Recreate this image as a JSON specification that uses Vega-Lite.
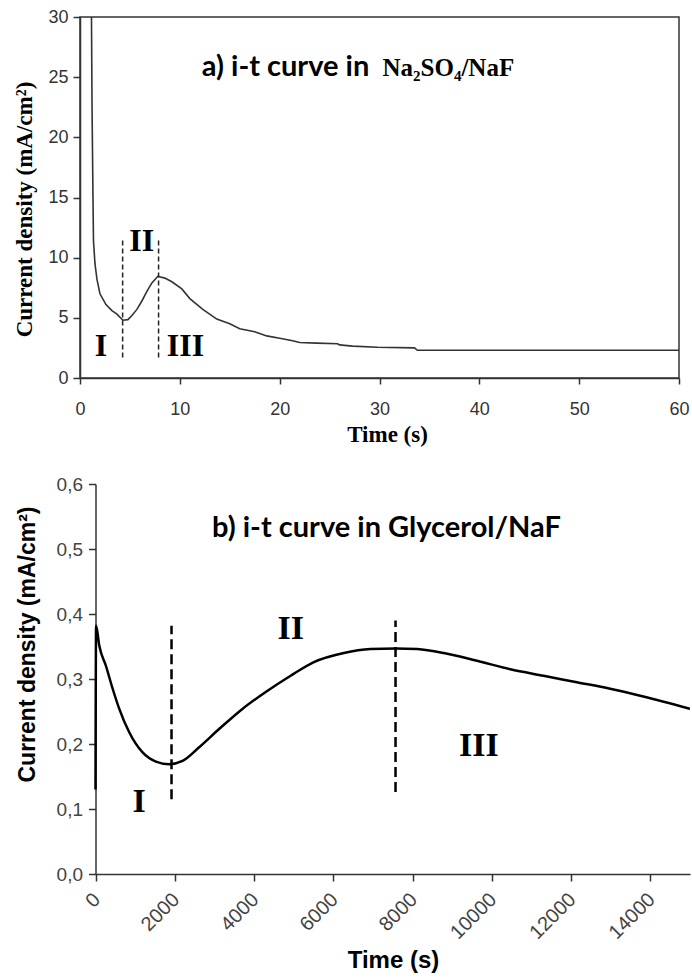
{
  "$schema": "https://vega.github.io/schema/vega-lite/v6.json",
  "background": "white",
  "padding": {"left": 13, "top": 7, "right": 2, "bottom": 3},
  "spacing": 28,
  "config": {
    "view": {"stroke": "#333", "strokeWidth": 1.5},
    "axis": {"grid": false, "domainColor": "#333", "tickColor": "#333", "domainWidth": 1.5, "tickWidth": 1.5, "labelFlush": false, "labelOverlap": false}
  },
  "datasets": {
    "curveA": [
      {"t": 1.15, "j": 30}, {"t": 1.2, "j": 23.1}, {"t": 1.3, "j": 15}, {"t": 1.35, "j": 11.4},
      {"t": 1.5, "j": 9.5}, {"t": 1.7, "j": 8.2}, {"t": 2.0, "j": 7.0}, {"t": 2.6, "j": 6.1},
      {"t": 3.2, "j": 5.6}, {"t": 3.7, "j": 5.3}, {"t": 4.3, "j": 4.8}, {"t": 4.8, "j": 4.85},
      {"t": 5.2, "j": 5.2}, {"t": 5.7, "j": 5.7}, {"t": 6.2, "j": 6.4}, {"t": 6.7, "j": 7.2},
      {"t": 7.2, "j": 7.9}, {"t": 7.8, "j": 8.45}, {"t": 8.5, "j": 8.3}, {"t": 9.2, "j": 8.0},
      {"t": 10.2, "j": 7.4}, {"t": 11.0, "j": 6.6}, {"t": 12.3, "j": 5.7}, {"t": 13.7, "j": 4.9},
      {"t": 15.0, "j": 4.5}, {"t": 16.0, "j": 4.1}, {"t": 17.5, "j": 3.85}, {"t": 18.7, "j": 3.5},
      {"t": 20.0, "j": 3.3}, {"t": 21.3, "j": 3.1}, {"t": 22.0, "j": 2.95}, {"t": 23.7, "j": 2.9},
      {"t": 25.8, "j": 2.85}, {"t": 26.0, "j": 2.75}, {"t": 27.3, "j": 2.65}, {"t": 29.8, "j": 2.55},
      {"t": 33.5, "j": 2.5}, {"t": 33.8, "j": 2.3}, {"t": 60, "j": 2.3}
    ],
    "dashA": [
      {"t": 4.27, "y1": 1.7, "y2": 11.5},
      {"t": 7.87, "y1": 1.7, "y2": 11.5}
    ],
    "labelsA": [
      {"label": "I", "t": 2.1, "j": 1.83},
      {"label": "II", "t": 6.18, "j": 10.56},
      {"label": "III", "t": 10.57, "j": 1.83}
    ],
    "titleA1": [{"text": "a) i-t curve in", "t": 12.2, "j": 25.06}],
    "titleA2": [{"text": "Na₂SO₄/NaF", "t": 30.3, "j": 25.06}],
    "curveB": [
      {"t": 0, "j": 0.13}, {"t": 15, "j": 0.382}, {"t": 96, "j": 0.351}, {"t": 264, "j": 0.32},
      {"t": 433, "j": 0.285}, {"t": 600, "j": 0.254}, {"t": 851, "j": 0.218}, {"t": 1188, "j": 0.187},
      {"t": 1524, "j": 0.173}, {"t": 1860, "j": 0.169}, {"t": 2196, "j": 0.174}, {"t": 2615, "j": 0.195},
      {"t": 3118, "j": 0.223}, {"t": 3707, "j": 0.254}, {"t": 4295, "j": 0.28}, {"t": 4924, "j": 0.305},
      {"t": 5511, "j": 0.326}, {"t": 6267, "j": 0.34}, {"t": 6940, "j": 0.346}, {"t": 7570, "j": 0.347},
      {"t": 8116, "j": 0.346}, {"t": 8786, "j": 0.34}, {"t": 9627, "j": 0.328}, {"t": 10466, "j": 0.315},
      {"t": 11305, "j": 0.305}, {"t": 12146, "j": 0.295}, {"t": 12985, "j": 0.285}, {"t": 13824, "j": 0.273},
      {"t": 15000, "j": 0.254}
    ],
    "dashB": [
      {"t": 1918, "y1": 0.115, "y2": 0.382},
      {"t": 7570, "y1": 0.126, "y2": 0.39}
    ],
    "labelsB": [
      {"label": "I", "t": 1103, "j": 0.095},
      {"label": "II", "t": 4924, "j": 0.3615},
      {"label": "III", "t": 9673, "j": 0.1815}
    ],
    "titleB": [{"text": "b) i-t curve in Glycerol/NaF", "t": 2942, "j": 0.518}]
  },
  "vconcat": [
    {
      "width": 599,
      "height": 361,
      "layer": [
        {
          "data": {"name": "curveA"},
          "mark": {"type": "line", "color": "#333", "strokeWidth": 1.6, "clip": true},
          "encoding": {
            "x": {"field": "t", "type": "quantitative", "scale": {"domain": [0, 60], "nice": false},
              "axis": {"title": "Time (s)", "values": [0, 10, 20, 30, 40, 50, 60],
                "titleFont": "Liberation Serif", "titleFontSize": 23, "titleFontWeight": "bold", "titleColor": "black", "titlePadding": 5, "titleX": 307,
                "labelFont": "Liberation Sans", "labelFontSize": 18, "labelColor": "#333", "tickSize": 6, "labelPadding": 16}},
            "y": {"field": "j", "type": "quantitative", "scale": {"domain": [0, 30], "nice": false},
              "axis": {"title": "Current density (mA/cm²)", "values": [0, 5, 10, 15, 20, 25, 30],
                "titleFont": "Liberation Serif", "titleFontSize": 23, "titleFontWeight": "bold", "titleColor": "black", "titlePadding": 11, "titleY": 192,
                "labelFont": "Liberation Sans", "labelFontSize": 18, "labelColor": "#333", "tickSize": 7, "labelPadding": 5}},
            "order": {"field": "t", "type": "quantitative"}
          }
        },
        {
          "data": {"name": "dashA"},
          "mark": {"type": "rule", "strokeDash": [5, 3], "strokeWidth": 1.5, "color": "#222"},
          "encoding": {
            "x": {"field": "t", "type": "quantitative"},
            "y": {"field": "y1", "type": "quantitative"},
            "y2": {"field": "y2"}
          }
        },
        {
          "data": {"name": "labelsA"},
          "mark": {"type": "text", "font": "Liberation Serif", "fontWeight": "bold", "fontSize": 32, "baseline": "alphabetic", "align": "center", "color": "black"},
          "encoding": {
            "x": {"field": "t", "type": "quantitative"},
            "y": {"field": "j", "type": "quantitative"},
            "text": {"field": "label"}
          }
        },
        {
          "data": {"name": "titleA1"},
          "mark": {"type": "text", "font": "Lato", "fontWeight": "bold", "fontSize": 29, "baseline": "alphabetic", "align": "left", "color": "black"},
          "encoding": {
            "x": {"field": "t", "type": "quantitative"},
            "y": {"field": "j", "type": "quantitative"},
            "text": {"field": "text"}
          }
        },
        {
          "data": {"name": "titleA2"},
          "mark": {"type": "text", "font": "Liberation Serif", "fontWeight": "bold", "fontSize": 25, "baseline": "alphabetic", "align": "left", "color": "black"},
          "encoding": {
            "x": {"field": "t", "type": "quantitative"},
            "y": {"field": "j", "type": "quantitative"},
            "text": {"field": "text"}
          }
        }
      ]
    },
    {
      "width": 610,
      "height": 390,
      "view": {"stroke": null},
      "layer": [
        {
          "data": {"name": "curveB"},
          "mark": {"type": "line", "color": "black", "strokeWidth": 2.5, "clip": true, "interpolate": "monotone"},
          "encoding": {
            "x": {"field": "t", "type": "quantitative", "scale": {"domain": [0, 15000], "nice": false, "range": [15.5, 610]},
              "axis": {"title": "Time (s)", "values": [0, 2000, 4000, 6000, 8000, 10000, 12000, 14000], "format": "d",
                "labelAngle": -45, "titleFont": "Liberation Sans", "titleFontSize": 24, "titleFontWeight": "bold", "titleColor": "black", "titlePadding": 6, "titleX": 313,
                "labelFont": "Liberation Sans", "labelFontSize": 20, "labelColor": "#444", "tickSize": 7, "labelPadding": 8, "labelOffset": -6}},
            "y": {"field": "j", "type": "quantitative", "scale": {"domain": [0, 0.6], "nice": false},
              "axis": {"title": "Current density (mA/cm²)", "values": [0, 0.1, 0.2, 0.3, 0.4, 0.5, 0.6], "offset": -15.5,
                "labelExpr": "replace(format(datum.value, '.1f'), '.', ',')",
                "titleFont": "Liberation Sans", "titleFontSize": 23, "titleFontWeight": "bold", "titleColor": "black", "titlePadding": 17, "titleY": 160,
                "labelFont": "Liberation Sans", "labelFontSize": 19, "labelColor": "#444", "tickSize": 7, "labelPadding": 6}},
            "order": {"field": "t", "type": "quantitative"}
          }
        },
        {
          "mark": {"type": "rule", "color": "#333", "strokeWidth": 1.5},
          "encoding": {
            "x": {"datum": 0, "type": "quantitative"},
            "x2": {"datum": 15000},
            "y": {"datum": 0.6, "type": "quantitative"}
          }
        },
        {
          "mark": {"type": "rule", "color": "#333", "strokeWidth": 1.5},
          "encoding": {
            "x": {"datum": 15000, "type": "quantitative"},
            "y": {"datum": 0, "type": "quantitative"},
            "y2": {"datum": 0.6}
          }
        },
        {
          "data": {"name": "dashB"},
          "mark": {"type": "rule", "strokeDash": [10, 5], "strokeWidth": 2.5, "color": "black"},
          "encoding": {
            "x": {"field": "t", "type": "quantitative"},
            "y": {"field": "y1", "type": "quantitative"},
            "y2": {"field": "y2"}
          }
        },
        {
          "data": {"name": "labelsB"},
          "mark": {"type": "text", "font": "Liberation Serif", "fontWeight": "bold", "fontSize": 34, "baseline": "alphabetic", "align": "center", "color": "black"},
          "encoding": {
            "x": {"field": "t", "type": "quantitative"},
            "y": {"field": "j", "type": "quantitative"},
            "text": {"field": "label"}
          }
        },
        {
          "data": {"name": "titleB"},
          "mark": {"type": "text", "font": "Lato", "fontWeight": "bold", "fontSize": 29, "baseline": "alphabetic", "align": "left", "color": "black"},
          "encoding": {
            "x": {"field": "t", "type": "quantitative"},
            "y": {"field": "j", "type": "quantitative"},
            "text": {"field": "text"}
          }
        }
      ]
    }
  ]
}
